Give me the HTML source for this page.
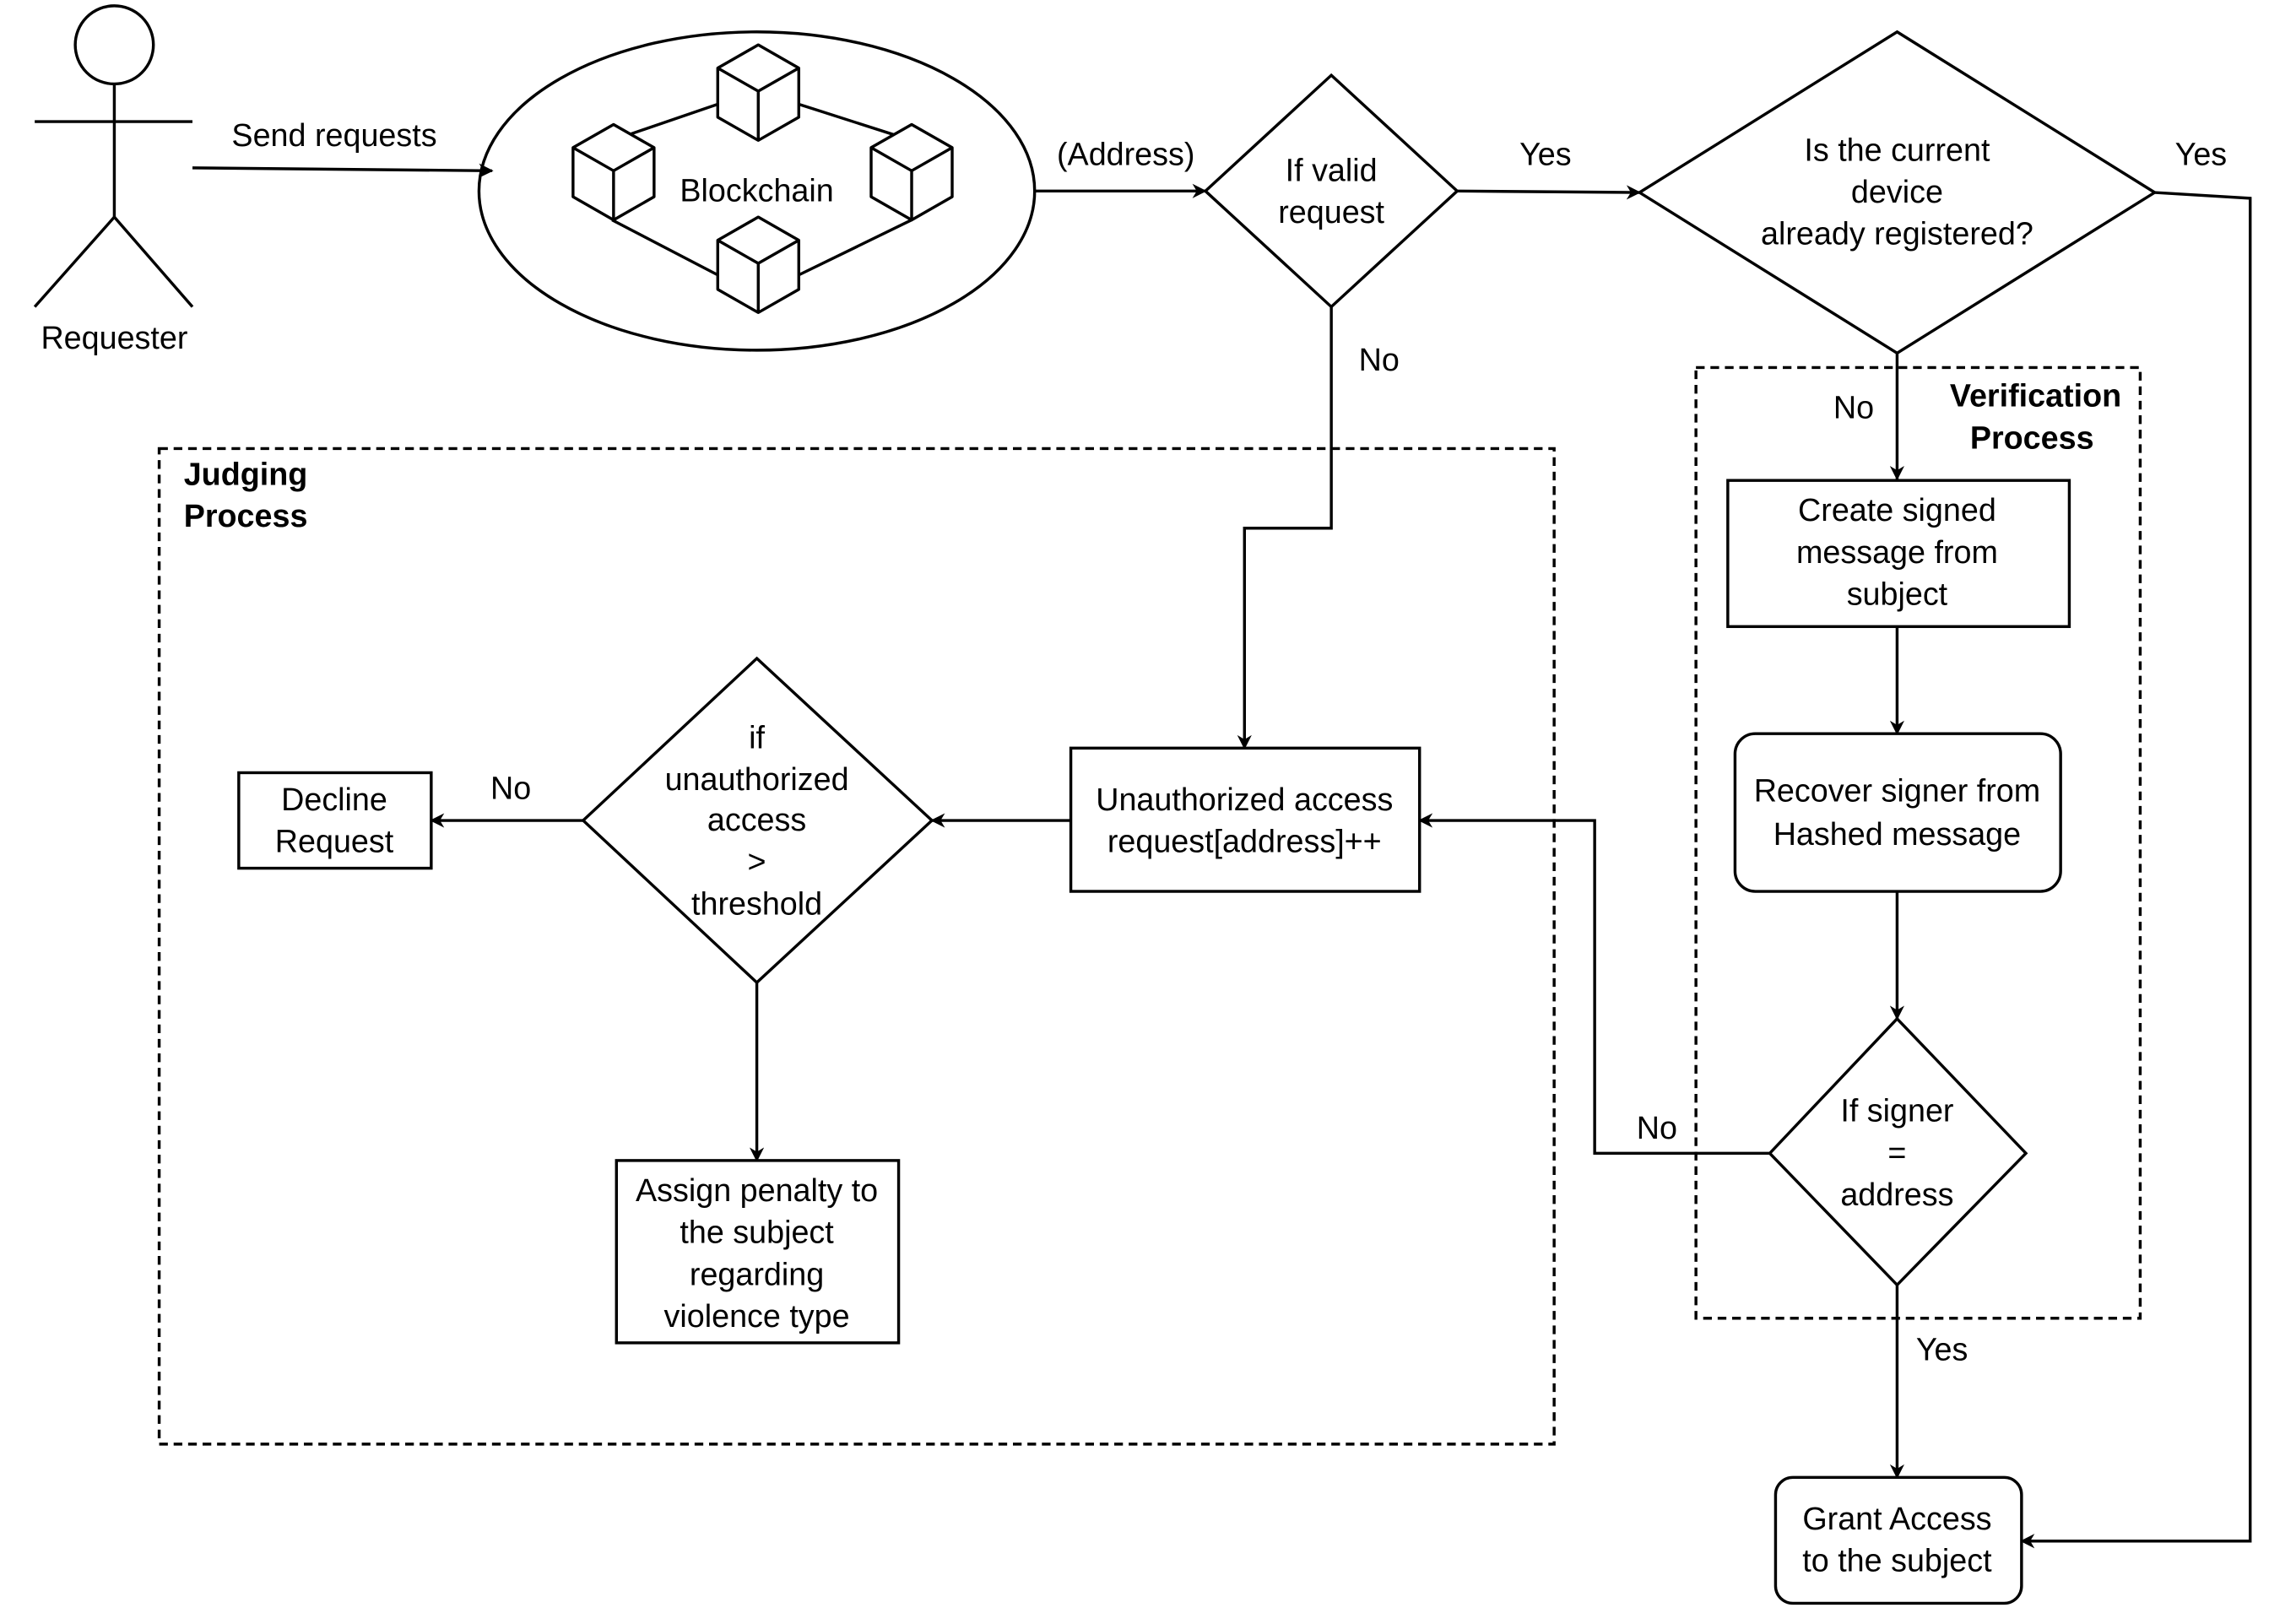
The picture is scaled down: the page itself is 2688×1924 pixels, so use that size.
<!DOCTYPE html>
<html><head><style>html,body{margin:0;padding:0;background:#fff}svg{display:block}</style></head>
<body>
<svg width="2688" height="1924" viewBox="0 0 1568 1122.3" xmlns="http://www.w3.org/2000/svg">
<defs>
<marker id="a" markerWidth="10" markerHeight="10" refX="9" refY="5" orient="auto" markerUnits="userSpaceOnUse">
<path d="M0,0 L10,5 L0,10 L3,5 z" fill="#000"/></marker>
<g id="cube" fill="#fff" stroke="#000" stroke-width="2" stroke-linejoin="round">
<path d="M0,-32 L28,-16 L28,18 L0,34 L-28,18 L-28,-16 Z"/>
<path d="M-28,-16 L0,0 L28,-16 M0,0 L0,34" fill="none"/>
</g>
</defs>
<g font-family="Liberation Sans, sans-serif" font-size="22" fill="#000" text-anchor="middle">
<!-- stick figure -->
<g stroke="#000" stroke-width="2" fill="none">
<circle cx="79" cy="31" r="27" fill="#fff"/>
<line x1="24" y1="84" x2="133" y2="84"/>
<line x1="79" y1="58" x2="79" y2="150"/>
<line x1="79" y1="150" x2="24" y2="212"/>
<line x1="79" y1="150" x2="133" y2="212"/>
</g>
<text x="79" y="241">Requester</text>
<text x="231" y="101">Send requests</text>
<!-- blockchain -->
<ellipse cx="523" cy="132" rx="192" ry="110" fill="#fff" stroke="#000" stroke-width="2"/>
<line x1="133" y1="116" x2="340" y2="118" stroke="#000" stroke-width="2" marker-end="url(#a)"/>
<g stroke="#000" stroke-width="2" fill="none">
<line x1="496" y1="72" x2="423" y2="97"/>
<line x1="552" y1="72" x2="630" y2="97"/>
<line x1="423" y1="152" x2="496" y2="190"/>
<line x1="630" y1="152" x2="552" y2="190"/>
</g>
<use href="#cube" x="524" y="63"/>
<use href="#cube" x="424" y="118"/>
<use href="#cube" x="630" y="118"/>
<use href="#cube" x="524" y="182"/>
<text x="523" y="139">Blockchain</text>
<line x1="715" y1="132" x2="833" y2="132" stroke="#000" stroke-width="2" marker-end="url(#a)"/>
<text x="778" y="114">(Address)</text>
<!-- diamond 1 -->
<path d="M920,52 L1007,132 L920,212 L833,132 Z" fill="#fff" stroke="#000" stroke-width="2"/>
<text x="920" y="125">If valid</text><text x="920" y="154">request</text>
<line x1="1007" y1="132" x2="1133" y2="133" stroke="#000" stroke-width="2" marker-end="url(#a)"/>
<text x="1068" y="114">Yes</text>
<!-- diamond 2 -->
<path d="M1311,22 L1489,133 L1311,244 L1133,133 Z" fill="#fff" stroke="#000" stroke-width="2"/>
<text x="1311" y="111">Is the current</text><text x="1311" y="140">device</text><text x="1311" y="169">already registered?</text>
<polyline points="1489,133 1555,137 1555,1065 1397,1065" fill="none" stroke="#000" stroke-width="2" marker-end="url(#a)"/>
<text x="1521" y="114">Yes</text>
<!-- verification -->
<rect x="1172" y="254" width="307" height="657" fill="none" stroke="#000" stroke-width="2" stroke-dasharray="6,4"/>
<text x="1466" y="281" text-anchor="end" font-weight="bold">Verification</text>
<text x="1447" y="310" text-anchor="end" font-weight="bold">Process</text>
<line x1="1311" y1="244" x2="1311" y2="331" stroke="#000" stroke-width="2" marker-end="url(#a)"/>
<text x="1281" y="289">No</text>
<rect x="1194" y="332" width="236" height="101" fill="#fff" stroke="#000" stroke-width="2"/>
<text x="1311" y="360">Create signed</text><text x="1311" y="389">message from</text><text x="1311" y="418">subject</text>
<line x1="1311" y1="433" x2="1311" y2="507" stroke="#000" stroke-width="2" marker-end="url(#a)"/>
<rect x="1199" y="507" width="225" height="109" rx="14" fill="#fff" stroke="#000" stroke-width="2"/>
<text x="1311" y="554">Recover signer from</text><text x="1311" y="584">Hashed message</text>
<line x1="1311" y1="616" x2="1311" y2="704" stroke="#000" stroke-width="2" marker-end="url(#a)"/>
<path d="M1311,704 L1400,797 L1311,888 L1223,797 Z" fill="#fff" stroke="#000" stroke-width="2"/>
<text x="1311" y="775">If signer</text><text x="1311" y="804">=</text><text x="1311" y="833">address</text>
<polyline points="1223,797 1102,797 1102,567 981,567" fill="none" stroke="#000" stroke-width="2" marker-end="url(#a)"/>
<text x="1145" y="787">No</text>
<line x1="1311" y1="888" x2="1311" y2="1021" stroke="#000" stroke-width="2" marker-end="url(#a)"/>
<text x="1342" y="940">Yes</text>
<rect x="1227" y="1021" width="170" height="87" rx="12" fill="#fff" stroke="#000" stroke-width="2"/>
<text x="1311" y="1057">Grant Access</text><text x="1311" y="1086">to the subject</text>
<!-- judging -->
<rect x="110" y="310" width="964" height="688" fill="none" stroke="#000" stroke-width="2" stroke-dasharray="6,4"/>
<text x="127" y="335" text-anchor="start" font-weight="bold">Judging</text>
<text x="127" y="364" text-anchor="start" font-weight="bold">Process</text>
<polyline points="920,212 920,365 860,365 860,517" fill="none" stroke="#000" stroke-width="2" marker-end="url(#a)"/>
<text x="953" y="256">No</text>
<rect x="740" y="517" width="241" height="99" fill="#fff" stroke="#000" stroke-width="2"/>
<text x="860" y="560">Unauthorized access</text><text x="860" y="589">request[address]++</text>
<line x1="740" y1="567" x2="644" y2="567" stroke="#000" stroke-width="2" marker-end="url(#a)"/>
<path d="M523,455 L644,567 L523,679 L403,567 Z" fill="#fff" stroke="#000" stroke-width="2"/>
<text x="523" y="517">if</text><text x="523" y="546">unauthorized</text><text x="523" y="574">access</text><text x="523" y="603">&gt;</text><text x="523" y="632">threshold</text>
<line x1="403" y1="567" x2="298" y2="567" stroke="#000" stroke-width="2" marker-end="url(#a)"/>
<text x="353" y="552">No</text>
<rect x="165" y="534" width="133" height="66" fill="#fff" stroke="#000" stroke-width="2"/>
<text x="231" y="560">Decline</text><text x="231" y="589">Request</text>
<line x1="523" y1="679" x2="523" y2="802" stroke="#000" stroke-width="2" marker-end="url(#a)"/>
<rect x="426" y="802" width="195" height="126" fill="#fff" stroke="#000" stroke-width="2"/>
<text x="523" y="830">Assign penalty to</text><text x="523" y="859">the subject</text><text x="523" y="888">regarding</text><text x="523" y="917">violence type</text>
</g>
</svg>
</body></html>
